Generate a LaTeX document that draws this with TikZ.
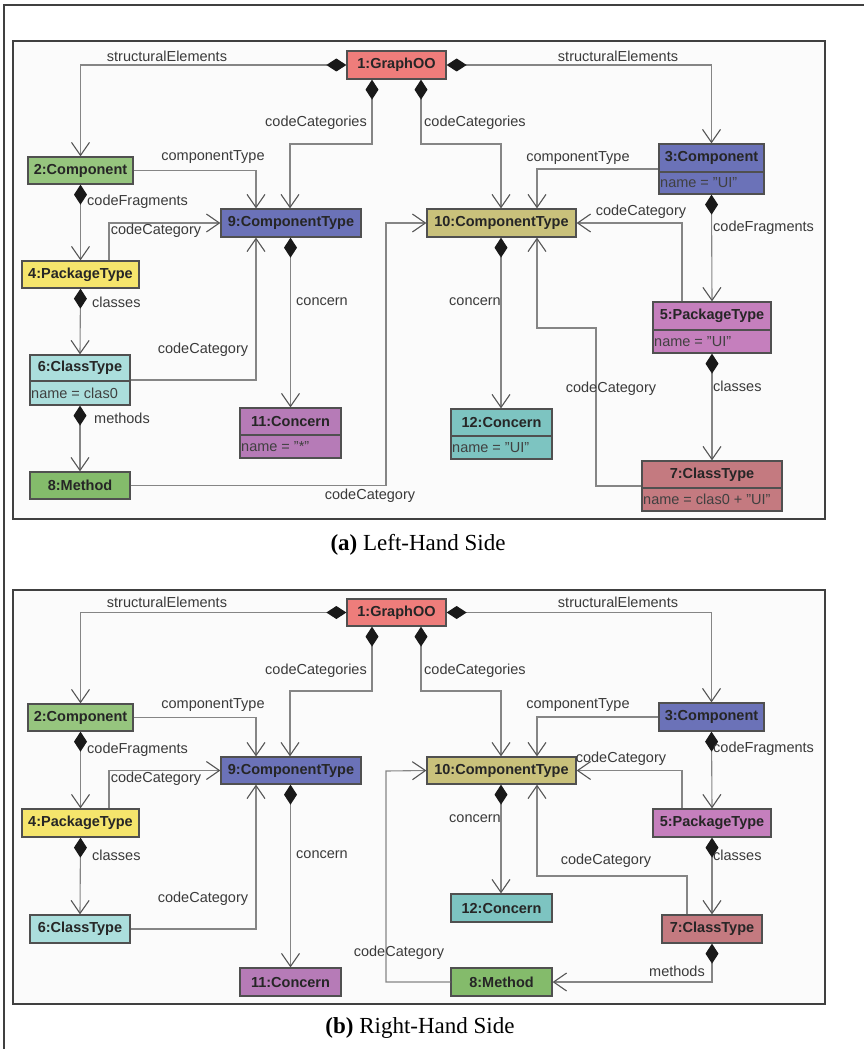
\documentclass[tikz,border=0pt]{standalone}
\usepackage{fontspec}
\setmainfont{Liberation Serif}
\setsansfont{Liberation Sans}
\usetikzlibrary{arrows.meta,fit,calc}

\definecolor{cRed}{HTML}{EE7D7B}
\definecolor{cGreen}{HTML}{96C57E}
\definecolor{cGreenD}{HTML}{84BB6B}
\definecolor{cBlue}{HTML}{6B72B8}
\definecolor{cYellow}{HTML}{F5E56C}
\definecolor{cCyan}{HTML}{ABDEDC}
\definecolor{cPurple}{HTML}{B67BB7}
\definecolor{cOlive}{HTML}{C9C17B}
\definecolor{cTeal}{HTML}{7DC4C1}
\definecolor{cPink}{HTML}{C57FBD}
\definecolor{cRose}{HTML}{C47A80}
\definecolor{lineGray}{HTML}{858585}
\definecolor{tipGray}{HTML}{555555}
\definecolor{boxEdge}{HTML}{505050}
\definecolor{labelGray}{HTML}{3A3A3A}
\definecolor{panelBg}{HTML}{FBFBFB}

\tikzset{
  obj/.style={draw=boxEdge, line width=1.3pt, inner sep=0pt},
  objrule/.style={draw=boxEdge, line width=1.1pt},
  objtitle/.style={inner sep=0pt, font=\sffamily\bfseries\fontsize{14.5}{16}\selectfont, text=black!85},
  objattr/.style={inner sep=1pt, font=\sffamily\fontsize{14.5}{16}\selectfont, text=black!75},
  lbl/.style={inner sep=0pt, font=\sffamily\fontsize{14.5}{16}\selectfont, text=labelGray},
  conn/.style={draw=lineGray, line width=1.1pt},
  assoc/.style={conn, -{Straight Barb[length=13pt,width=18pt,line width=1.1pt,color=tipGray]}},
  compo/.style={conn, {Diamond[length=20pt,width=13pt,color=black!90,fill=black!90]}-{Straight Barb[length=13pt,width=18pt,line width=1.1pt,color=tipGray]}},
  panel/.style={draw=black!75, line width=1.3pt, fill=panelBg},
  caption/.style={inner sep=0pt, font=\fontsize{23}{27}\selectfont},
}

% single-compartment object: name, x1, y1, x2, y2, fill, title
\newcommand\objsingle[7]{%
  \node[obj, fill=#6, fit={(#2,#3) (#4,#5)}] (#1) {};
  \node[objtitle] (#1-t) at ($(#2,#3)!0.5!(#4,#5)$) {#7};}
% two-compartment object: name, x1, y1, x2, ysplit, y2, fill, title, attribute
\newcommand\objdouble[9]{%
  \node[obj, fill=#7, fit={(#2,#3) (#4,#6)}] (#1) {};
  \draw[objrule] (#1.west |- 0,#5) -- (#1.east |- 0,#5);
  \node[objtitle] (#1-t) at ($(#2,#3)!0.5!(#4,#5)$) {#8};
  \node[objattr, anchor=west] (#1-a) at ($(#2,#5)!0.5!(#2,#6)$) {#9};}

\begin{document}
\begin{tikzpicture}[x=1pt,y=-1pt]
\useasboundingbox (0,0) rectangle (864,1049);
\fill[white] (0,0) rectangle (864,1049);

% outer frame
\draw[black!75, line width=1.5pt] (3,5) -- (864,5);
\draw[black!75, line width=1.5pt] (4,5) -- (4,1049);

% ===================== (a) Left-Hand Side =====================
\draw[panel] (13,41) rectangle (825,519);

\objsingle{a1}{347}{51}{446}{79}{cRed}{1:GraphOO}
\objsingle{a2}{28}{157}{133}{184}{cGreen}{2:Component}
\objdouble{a3}{659}{144}{764}{172}{194}{cBlue}{3:Component}{name = "UI"}
\objsingle{a4}{22}{261}{139}{288}{cYellow}{4:PackageType}
\objdouble{a5}{653}{302}{771}{330}{353}{cPink}{5:PackageType}{name = "UI"}
\objdouble{a6}{30}{355}{130}{381}{405}{cCyan}{6:ClassType}{name = clas0}
\objdouble{a7}{642}{461}{782}{488}{511}{cRose}{7:ClassType}{name = clas0 + "UI"}
\objsingle{a8}{30}{472}{130}{499}{cGreenD}{8:Method}
\objsingle{a9}{221}{209}{361}{237}{cBlue}{9:ComponentType}
\objsingle{a10}{427}{209}{576}{237}{cOlive}{10:ComponentType}
\objdouble{a11}{240}{408}{341}{435}{458}{cPurple}{11:Concern}{name = "*"}
\objdouble{a12}{451}{409}{552}{436}{459}{cTeal}{12:Concern}{name = "UI"}

\draw[compo] (a1.west) -| (a2.north);
\draw[compo] (a1.east) -| (a3.north);
\draw[compo] (a1.south -| 372,0) |- (290,144) -- (a9.north -| 290,0);
\draw[compo] (a1.south -| 421,0) |- (501,144) -- (a10.north -| 501,0);
\draw[assoc] (a2.east) -| (a9.north -| 256,0);
\draw[compo] (a2.south) -- (a4.north);
\draw[assoc] (a4.north -| 109,0) |- (a9.west);
\draw[compo] (a4.south) -- (a6.north);
\draw[assoc] (a6.east |- 0,380) -| (a9.south -| 256,0);
\draw[compo] (a6.south) -- (a8.north);
\draw[assoc] (a8.east) -| (386,223) -- (a10.west);
\draw[compo] (a9.south -| a11.north) -- (a11.north);
\draw[compo] (a10.south -| 501,0) -- (a12.north -| 501,0);
\draw[assoc] (a3.west |- 0,169) -| (a10.north -| 537,0);
\draw[assoc] (a5.north -| 682,0) |- (a10.east);
\draw[compo] (a3.south) -- (a5.north);
\draw[compo] (a5.south) -- (a7.north);
\draw[assoc] (a7.west |- 0,486) -| (596,328) -| (a10.south -| 537,0);

\node[lbl] (la1) at (167,56) {structuralElements};
\node[lbl] (la2) at (618,56) {structuralElements};
\node[lbl, anchor=east] (la3) at (367,123) {codeCategories};
\node[lbl, anchor=west] (la4) at (424,123) {codeCategories};
\node[lbl] (la5) at (213,157) {componentType};
\node[lbl, anchor=west] (la6) at (87,202) {codeFragments};
\node[lbl] (la7) at (156,231) {codeCategory};
\node[lbl, anchor=west] (la8) at (92,302) {classes};
\node[lbl] (la9) at (203,350) {codeCategory};
\node[lbl, anchor=west] (la10) at (94,418) {methods};
\node[lbl] (la11) at (370,496) {codeCategory};
\node[lbl, anchor=west] (la12) at (296,302) {concern};
\node[lbl, anchor=east] (la13) at (501,302) {concern};
\node[lbl] (la14) at (578,158) {componentType};
\node[lbl] (la15) at (641,212) {codeCategory};
\node[lbl, anchor=west] (la16) at (713,228) {codeFragments};
\node[lbl, anchor=west] (la17) at (713,386) {classes};
\node[lbl] (la18) at (611,389) {codeCategory};

\node[caption] (capa) at (418,545) {\textbf{(a)} Left-Hand Side};

% ===================== (b) Right-Hand Side =====================
\draw[panel] (13,590) rectangle (825,1004);

\objsingle{b1}{347}{599}{446}{626}{cRed}{1:GraphOO}
\objsingle{b2}{28}{704}{133}{731}{cGreen}{2:Component}
\objsingle{b3}{659}{703}{764}{731}{cBlue}{3:Component}
\objsingle{b4}{22}{809}{139}{837}{cYellow}{4:PackageType}
\objsingle{b5}{653}{809}{771}{837}{cPink}{5:PackageType}
\objsingle{b6}{30}{915}{130}{943}{cCyan}{6:ClassType}
\objsingle{b7}{662}{915}{762}{943}{cRose}{7:ClassType}
\objsingle{b8}{451}{968}{552}{996}{cGreenD}{8:Method}
\objsingle{b9}{221}{757}{361}{784}{cBlue}{9:ComponentType}
\objsingle{b10}{427}{757}{576}{784}{cOlive}{10:ComponentType}
\objsingle{b11}{240}{968}{341}{996}{cPurple}{11:Concern}
\objsingle{b12}{451}{894}{552}{922}{cTeal}{12:Concern}

\draw[compo] (b1.west) -| (b2.north);
\draw[compo] (b1.east) -| (b3.north);
\draw[compo] (b1.south -| 372,0) |- (290,691) -- (b9.north -| 290,0);
\draw[compo] (b1.south -| 421,0) |- (501,691) -- (b10.north -| 501,0);
\draw[assoc] (b2.east) -| (b9.north -| 256,0);
\draw[compo] (b2.south) -- (b4.north);
\draw[assoc] (b4.north -| 109,0) |- (b9.west);
\draw[compo] (b4.south) -- (b6.north);
\draw[assoc] (b6.east) -| (b9.south -| 256,0);
\draw[compo] (b9.south -| b11.north) -- (b11.north);
\draw[compo] (b10.south -| 501,0) -- (b12.north -| 501,0);
\draw[assoc] (b3.west) -| (b10.north -| 537,0);
\draw[assoc] (b5.north -| 682,0) |- (b10.east);
\draw[compo] (b3.south) -- (b5.north);
\draw[compo] (b5.south) -- (b7.north);
\draw[assoc] (b7.north -| 687,0) |- (537,876) -- (b10.south -| 537,0);
\draw[compo] (b7.south -| 712,0) |- (b8.east);
\draw[assoc] (b8.west) -| (386,771) -- (b10.west);

\node[lbl] (lb1) at (167,602) {structuralElements};
\node[lbl] (lb2) at (618,602) {structuralElements};
\node[lbl, anchor=east] (lb3) at (367,671) {codeCategories};
\node[lbl, anchor=west] (lb4) at (424,671) {codeCategories};
\node[lbl] (lb5) at (213,705) {componentType};
\node[lbl, anchor=west] (lb6) at (87,750) {codeFragments};
\node[lbl] (lb7) at (156,779) {codeCategory};
\node[lbl, anchor=west] (lb8) at (92,855) {classes};
\node[lbl] (lb9) at (203,899) {codeCategory};
\node[lbl, anchor=west] (lb10) at (296,855) {concern};
\node[lbl, anchor=east] (lb11) at (501,819) {concern};
\node[lbl] (lb12) at (578,705) {componentType};
\node[lbl] (lb13) at (621,759) {codeCategory};
\node[lbl, anchor=west] (lb14) at (713,749) {codeFragments};
\node[lbl, anchor=west] (lb15) at (713,855) {classes};
\node[lbl] (lb16) at (606,861) {codeCategory};
\node[lbl, anchor=east] (lb17) at (705,971) {methods};
\node[lbl] (lb18) at (399,953) {codeCategory};

\node[caption] (capb) at (420,1028) {\textbf{(b)} Right-Hand Side};
\end{tikzpicture}
\end{document}
